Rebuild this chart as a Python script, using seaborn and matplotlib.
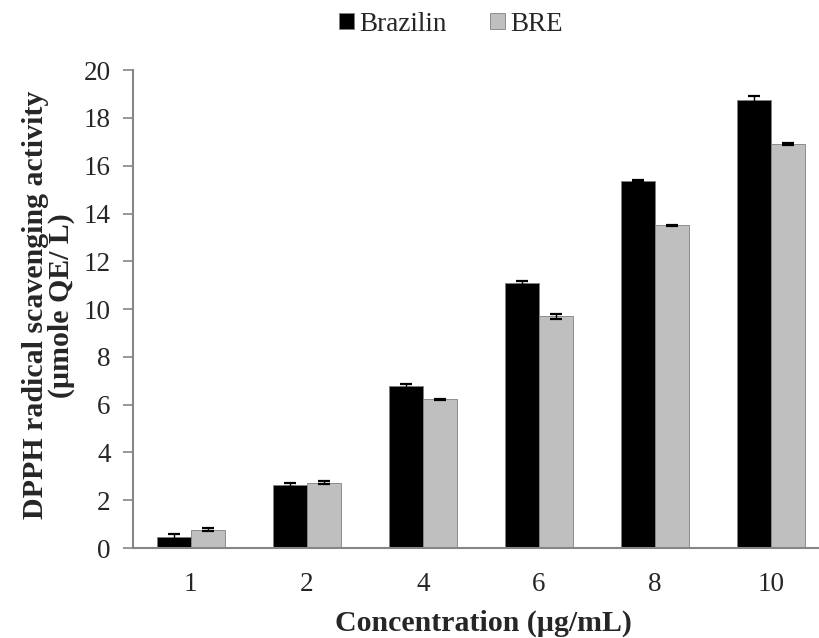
import matplotlib
matplotlib.use('Agg')
import matplotlib.pyplot as plt
import numpy as np
import pandas as pd
import seaborn as sns

concentrations = ['1', '2', '4', '6', '8', '10']
brazilin = [0.45, 2.65, 6.78, 11.1, 15.35, 18.75]
brazilin_err = [0.15, 0.08, 0.1, 0.08, 0.04, 0.15]
bre = [0.77, 2.74, 6.22, 9.7, 13.5, 16.92]
bre_err = [0.07, 0.07, 0.03, 0.1, 0.04, 0.05]

df = pd.DataFrame({
    'conc': concentrations * 2,
    'value': brazilin + bre,
    'err': brazilin_err + bre_err,
    'sample': ['Brazilin'] * len(brazilin) + ['BRE'] * len(bre),
})

sns.set_style('white')
plt.rcParams['font.family'] = ['Liberation Serif', 'DejaVu Serif']

fig = plt.figure(figsize=(8.2, 6.38), dpi=100)
ax = fig.add_axes([0.162, 0.141, 0.849, 0.749])

sns.barplot(data=df, x='conc', y='value', hue='sample', order=concentrations,
            hue_order=['Brazilin', 'BRE'], palette=['#000000', '#bfbfbf'],
            width=0.58, gap=0, errorbar=None, edgecolor='#808080', linewidth=0.6,
            ax=ax)

# error bars on top of each bar, centres taken from drawn patches
bars = [p for p in ax.patches if p.get_height() > 0]
for p, e in zip(bars, brazilin_err + bre_err):
    xc = p.get_x() + p.get_width() / 2
    ax.errorbar(xc, p.get_height(), yerr=e, fmt='none', ecolor='black',
                elinewidth=1, capsize=4.5, capthick=1.6)

ax.set_ylim(0, 20)
ax.set_yticks(np.arange(0, 21, 2))
ax.set_xlim(-0.5, 5.5)
ax.set_xticks(np.arange(-0.5, 6, 1), minor=True)
ax.tick_params(axis='x', which='major', length=0, labelsize=19.5, pad=17)
ax.tick_params(axis='x', which='minor', length=7, width=1.2, color='#868686', direction='out')
ax.tick_params(axis='y', length=7, width=1.2, color='#868686', direction='out',
               labelsize=19.5, pad=9, left=True)

for side in ['top', 'right']:
    ax.spines[side].set_visible(False)
for side in ['left', 'bottom']:
    ax.spines[side].set_color('#868686')
    ax.spines[side].set_linewidth(1.5)

ax.set_xlabel('Concentration (µg/mL)', fontsize=21.5, fontweight='bold')
ax.xaxis.set_label_coords(0.503, -0.128)
ax.set_ylabel('DPPH radical scavenging activity\n(µmole QE/ L)', fontsize=21.5,
              fontweight='bold', linespacing=0.95)
ax.yaxis.set_label_coords(-0.083, 0.508)

handles, labels = ax.get_legend_handles_labels()
ax.legend(handles, labels, loc='center', bbox_to_anchor=(0.55, 0.962),
          bbox_transform=fig.transFigure, ncol=2, frameon=False, fontsize=19.5,
          handlelength=0.55, handleheight=0.55, handletextpad=0.2, columnspacing=1.6)

fig.savefig('out.png', dpi=100)
